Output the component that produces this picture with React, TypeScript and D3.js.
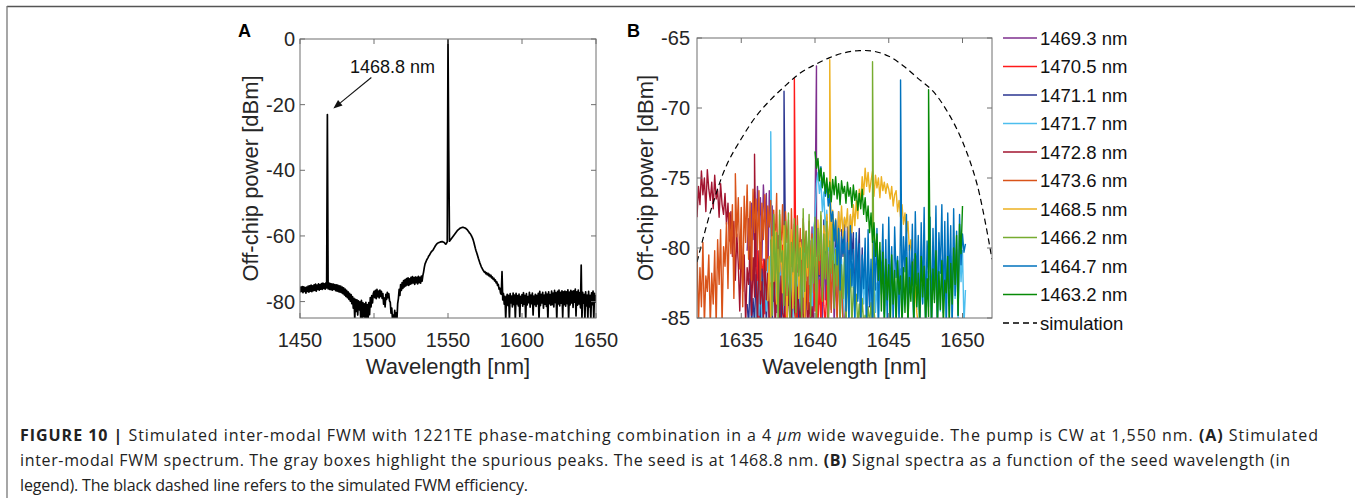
import React from 'react';
import * as d3 from 'd3';

const W = 1355;
const H = 498;

// ---------- Panel A: stimulated FWM spectrum (start 1450 nm, step 0.5 nm) ----------
const specAStart = 1450;
const specAStep = 0.5;
const specADbm = [
  -77.2,-75.6,-76.9,-75.4,-77.3,-75.5,-76.9,-75.7,-77.4,-75.6,
  -76.9,-75.3,-77.1,-75.2,-76.8,-75.0,-77.0,-75.2,-76.7,-74.9,
  -76.6,-74.7,-76.8,-75.0,-76.3,-74.6,-76.5,-74.8,-76.2,-74.5,
  -76.3,-74.4,-76.0,-74.6,-76.2,-74.3,-75.8,-23.0,-76.1,-74.3,
  -76.3,-74.5,-76.4,-74.6,-76.5,-74.7,-76.2,-74.8,-76.7,-74.9,
  -76.8,-75.0,-77.0,-75.2,-77.1,-75.3,-77.3,-75.6,-77.6,-75.8,
  -78.0,-76.2,-78.4,-76.6,-78.8,-77.0,-79.3,-77.5,-79.9,-77.9,
  -80.6,-78.5,-82.0,-79.0,-85.5,-79.3,-83.0,-79.5,-84.1,-79.8,
  -82.5,-80.1,-84.8,-79.6,-85.5,-80.3,-84.6,-80.7,-85.5,-80.2,
  -85.5,-80.9,-85.5,-80.3,-84.0,-78.8,-81.6,-78.2,-80.4,-77.6,
  -76.9,-78.8,-76.6,-79.1,-76.3,-78.5,-76.8,-78.9,-76.5,-78.4,
  -76.9,-79.0,-77.6,-80.8,-78.9,-81.6,-77.8,-79.3,-77.2,-78.8,
  -77.6,-79.8,-80.2,-83.5,-82.0,-85.5,-84.1,-85.5,-82.7,-85.5,
  -83.4,-85.5,-80.6,-79.0,-76.3,-78.1,-74.8,-76.6,-74.2,-76.0,
  -73.6,-75.5,-73.3,-75.2,-73.0,-74.9,-72.8,-75.1,-73.1,-74.7,
  -72.6,-74.5,-72.4,-74.3,-72.7,-74.8,-72.5,-74.2,-72.6,-74.6,
  -72.3,-74.2,-72.6,-74.4,-72.2,-73.8,-72.1,-71.0,-69.6,-68.5,
  -68.0,-67.4,-67.0,-66.6,-66.1,-65.8,-65.4,-65.0,-64.7,-64.5,
  -64.2,-63.8,-63.4,-63.0,-62.7,-62.4,-62.2,-62.1,-62.0,-61.9,
  -61.8,-61.8,-61.7,-61.8,-61.9,-62.0,-62.3,-62.5,-62.2,-61.8,
  0.0,-34.0,-61.6,-61.3,-61.0,-60.7,-60.4,-60.1,-59.8,-59.5,
  -59.2,-58.9,-58.6,-58.3,-58.1,-57.9,-57.7,-57.6,-57.5,-57.4,
  -57.4,-57.4,-57.5,-57.6,-57.7,-57.9,-58.1,-58.4,-58.7,-59.1,
  -59.3,-59.7,-60.1,-60.6,-61.2,-62.0,-62.9,-63.8,-64.6,-65.3,
  -66.0,-66.8,-67.5,-68.2,-68.8,-69.4,-69.8,-70.3,-70.6,-71.0,
  -70.9,-71.5,-71.2,-71.8,-71.4,-72.1,-71.7,-72.4,-72.0,-72.8,
  -72.5,-73.2,-72.9,-73.7,-73.4,-74.3,-74.0,-75.1,-74.8,-76.2,
  -75.9,-77.4,-77.8,-70.9,-79.5,-77.6,-80.8,-78.4,-85.5,-79.0,
  -77.8,-81.2,-78.1,-85.5,-77.6,-80.4,-78.3,-81.6,-77.4,-80.9,
  -78.0,-85.5,-77.5,-80.7,-78.2,-81.3,-77.7,-84.6,-78.4,-80.5,
  -77.9,-81.4,-77.3,-80.8,-78.1,-85.5,-77.6,-81.0,-78.5,-80.3,
  -77.2,-81.7,-78.0,-80.6,-77.4,-84.1,-78.3,-80.9,-77.8,-81.5,
  -78.1,-80.7,-77.5,-85.5,-76.9,-81.2,-77.8,-80.4,-77.2,-82.0,
  -78.0,-80.8,-77.1,-81.5,-77.7,-85.5,-77.0,-80.6,-77.9,-81.1,
  -76.8,-80.9,-77.4,-81.6,-76.6,-80.3,-77.3,-85.5,-76.9,-80.7,
  -76.5,-81.3,-77.2,-80.5,-76.7,-84.8,-77.0,-80.9,-76.8,-81.4,
  -77.0,-80.6,-76.4,-85.5,-77.1,-81.0,-76.6,-80.4,-76.9,-81.8,
  -76.7,-80.2,-76.2,-84.4,-77.0,-81.1,-76.5,-80.7,-77.3,-81.9,
  -68.9,-85.5,-77.2,-80.5,-77.8,-85.5,-77.0,-81.3,-78.0,-85.5,
  -76.9,-81.6,-78.1,-85.5,-77.3,-80.9,-76.8,-85.5,-77.5,-80.2,
  -78.0,
];
const aXTicks = [1450, 1500, 1550, 1600, 1650];
const aYTicks = [0, -20, -40, -60, -80];
const seedAnnot = '1468.8 nm';
const seedWl = 1468.8;
const seedDbm = -23;

// ---------- Panel B: signal spectra (step 0.1 nm) ----------
const bStep = 0.1;
const bXTicks = [1635, 1640, 1645, 1650];
const bYTicks = [-65, -70, -75, -80, -85];
const seedLabels = ['1469.3 nm','1470.5 nm','1471.1 nm','1471.7 nm','1472.8 nm','1473.6 nm','1468.5 nm','1466.2 nm','1464.7 nm','1463.2 nm'];
const seedColors = ['#7E2F8E','#FF1A1A','#2A3590','#4DBEEE','#A2142F','#D95319','#EDB120','#77AC30','#0072BD','#078A07'];
const seriesStart = [1635.4, 1636.0, 1635.4, 1636.0, 1632.0, 1632.0, 1636.8, 1637.0, 1640.2, 1640.0];
const peakWl = [1640.1, 1638.6, 1637.9, 1637.0, 1635.9, 1634.6, 1641.0, 1643.9, 1645.8, 1647.7];
const peakDbm = [-67.0, -67.9, -68.8, -71.7, -73.3, -74.7, -66.55, -66.7, -68.0, -68.7];

const s1469_3 = [
  -80.2,-77.9,-82.5,-76.8,-79.4,-76.0,-81.3,-75.6,-78.2,-76.4,
  -80.9,-75.5,-77.8,-76.1,-82.7,-75.9,-78.6,-77.0,-83.8,-78.3,
  -84.6,-79.1,-85.5,-80.4,-83.2,-79.6,-85.5,-81.0,-84.1,-80.2,
  -85.5,-79.8,-83.6,-81.5,-85.5,-80.1,-84.9,-79.4,-82.8,-85.5,
  -80.6,-84.3,-79.2,-83.0,-78.5,-85.5,-77.9,-80.6,-79.8,-84.0,
  -80.9,-85.5,-79.5,-83.7,-81.2,-85.5,-80.3,-84.4,-79.9,-85.5,
  -81.6,-84.8,-80.4,-85.5,-81.9,-83.5,-85.5,
];
const s1470_5 = [
  -83.5,-80.2,-85.5,-79.6,-82.1,-80.8,-84.7,-79.9,-81.4,-85.5,
  -80.5,-83.9,-79.7,-85.5,-81.3,-84.2,-80.6,-85.5,-79.8,-82.9,
  -85.5,-80.9,-83.6,-81.2,-85.5,-80.4,-84.0,-81.7,-85.5,-80.0,
  -82.6,-85.5,-81.4,-84.8,-80.7,-85.5,-81.9,-83.3,-85.5,-82.0,
  -84.5,-81.6,-85.5,-82.3,-85.5,-81.0,-84.1,-85.5,-82.7,-85.5,
  -85.5,
];
const s1471_1 = [
  -84.0,-85.5,-82.2,-85.5,-83.6,-85.5,-81.9,-84.7,-82.8,-85.5,
  -81.5,-84.2,-80.8,-85.5,-82.3,-83.9,-80.6,-85.5,-81.7,-84.4,
  -80.3,-83.1,-79.9,-85.5,-81.0,-84.6,-80.4,-82.7,-79.7,-85.5,
  -80.8,-84.0,-79.5,-82.9,-81.2,-85.5,-80.0,-83.4,-79.3,-84.8,
  -79.9,-82.5,-78.9,-85.5,-79.6,-83.1,-78.6,-84.2,-79.1,-82.0,
  -78.4,-83.6,-78.0,-81.7,-77.8,-84.9,-78.3,-80.9,-77.6,-83.2,
  -78.1,-81.5,-77.4,-84.0,-78.7,-80.6,-77.9,-85.5,-78.5,-82.3,
  -77.7,-80.8,-78.9,-84.1,-79.3,-82.0,-78.6,-85.5,-80.0,-83.3,
  -80.7,-85.5,-81.4,-84.2,-82.0,-85.5,-83.1,
];
const s1471_7 = [
  -85.5,-82.4,-84.8,-81.6,-85.5,-83.0,-81.9,-84.5,-80.8,-85.5,
  -81.2,-83.7,-80.5,-85.5,-82.1,-84.3,-80.9,-83.2,-81.5,-85.5,
  -82.3,-85.5,-80.7,-83.8,-81.4,-85.5,-80.2,-84.1,-81.8,-82.9,
  -85.5,-80.6,-83.5,-79.8,-84.4,-80.9,-82.6,-79.5,-85.5,-78.7,
  -77.9,-75.4,-74.6,-76.1,-75.2,-77.4,-76.0,-78.8,-77.3,-80.2,
  -78.6,-82.4,-79.5,-81.1,-80.0,-84.3,-79.2,-82.5,-80.8,-85.5,
  -81.0,-83.4,-79.7,-85.5,-80.5,-82.8,-81.6,-84.9,-80.3,-83.6,
  -82.2,-85.5,-80.9,-84.0,-81.7,-85.5,-80.4,-82.9,-83.8,-85.5,
  -81.3,-84.6,-82.5,-85.5,-80.8,-83.3,-81.9,-85.5,-82.7,-84.1,
  -80.6,-85.5,-81.8,-83.5,-82.4,-85.5,-80.9,-84.7,-81.5,-85.5,
  -82.8,-84.0,-80.3,-85.5,-81.6,-83.1,-82.9,-85.5,-80.7,-84.4,
  -81.2,-85.5,-82.6,-83.9,-80.5,-85.5,-81.7,-84.2,-82.0,-85.5,
  -80.4,-83.0,-81.9,-85.5,-79.6,-84.5,-80.8,-82.7,-81.3,-85.5,
  -79.9,-84.1,-80.6,-85.5,-79.2,-83.6,-80.1,-85.5,-79.5,-82.4,
  -80.2,-85.5,-83.0,
];
const s1472_8 = [
  -77.8,-75.6,-76.9,-74.5,-76.2,-75.0,-77.4,-74.4,-75.8,-76.6,
  -75.3,-77.2,-74.8,-76.5,-75.9,-77.8,-75.4,-76.9,-77.6,-76.1,
  -78.3,-76.8,-79.5,-77.4,-80.6,-78.1,-82.3,-79.0,-81.2,-84.5,
  -79.8,-83.1,-80.5,-85.5,-81.4,-82.6,-79.9,-84.8,-80.7,-83.5,
  -81.6,-85.5,-80.2,-84.0,-82.4,-85.5,-80.9,-83.7,-81.8,-85.5,
  -82.5,-84.2,-80.6,-85.5,-83.1,-81.4,-85.5,-82.0,-84.6,-85.5,
  -81.9,-85.5,-83.4,-82.2,-85.5,-81.5,-84.3,-85.5,-82.8,-84.0,
  -85.5,-83.0,-84.7,-85.5,-82.4,-85.5,-83.9,-85.5,-84.2,-85.5,
  -85.5,
];
const s1473_6 = [
  -80.1,-85.5,-81.4,-84.2,-79.6,-85.5,-82.0,-83.1,-80.5,-85.5,
  -81.8,-84.0,-80.2,-85.5,-79.4,-82.6,-78.7,-85.5,-79.9,-81.3,
  -78.2,-82.9,-77.5,-80.4,-76.9,-83.6,-77.8,-79.2,-76.4,-81.5,
  -77.1,-84.2,-76.3,-79.6,-75.5,-80.8,-76.7,-82.3,-75.8,-78.9,
  -76.5,-80.1,-75.9,-83.0,-76.8,-79.4,-76.2,-81.6,-77.0,-78.5,
  -76.6,-82.4,-77.3,-79.8,-76.1,-84.0,-77.6,-80.5,-76.9,-81.8,
  -77.4,-79.6,-78.0,-83.5,-77.2,-80.9,-78.3,-85.5,-77.7,-81.2,
  -78.6,-82.7,-77.9,-80.3,-78.8,-84.4,-78.1,-81.5,-79.0,-83.2,
  -78.4,-85.5,-79.3,-81.9,-78.7,-83.8,-79.6,-82.1,-80.4,-85.5,
  -79.8,-84.6,-80.9,-83.0,-81.5,-85.5,-80.6,-84.1,-82.2,-85.5,
  -85.5,
];
const s1468_5 = [
  -83.8,-80.6,-85.5,-79.2,-82.4,-78.8,-84.0,-80.1,-81.7,-79.5,
  -83.2,-78.4,-81.0,-85.5,-79.1,-82.6,-78.7,-84.3,-80.0,-81.9,
  -78.9,-83.6,-79.6,-80.8,-78.3,-85.5,-79.8,-82.0,-78.5,-83.1,
  -79.4,-81.3,-78.6,-84.7,-78.0,-80.5,-77.7,-82.8,-78.4,-80.2,
  -77.6,-79.9,-78.2,-81.4,-77.3,-79.0,-77.9,-80.7,-77.4,-78.8,
  -77.0,-79.3,-77.8,-78.5,-77.2,-80.1,-77.6,-78.9,-76.9,-78.4,
  -76.6,-77.9,-75.8,-76.7,-74.9,-76.2,-74.3,-75.6,-74.6,-76.0,
  -75.2,-74.5,-76.3,-74.8,-75.7,-75.0,-76.4,-74.9,-75.9,-75.3,
  -76.1,-75.4,-75.8,-76.5,-75.6,-77.0,-76.2,-75.9,-77.4,-76.6,
  -77.8,-76.9,-78.3,-77.5,-79.0,-78.1,-80.2,-79.4,-81.6,-80.8,
  -83.0,-84.6,-85.5,
];
const s1466_2 = [
  -79.4,-84.8,-77.6,-82.3,-78.9,-85.5,-77.3,-81.0,-80.2,-84.1,
  -78.1,-83.4,-77.5,-85.5,-79.6,-81.7,-77.9,-84.6,-78.4,-82.0,
  -80.0,-85.5,-77.2,-83.1,-78.8,-81.4,-77.6,-84.9,-79.3,-82.5,
  -77.8,-85.5,-78.6,-80.9,-77.4,-83.8,-79.0,-82.2,-78.1,-85.5,
  -79.5,-81.8,-78.3,-84.3,-80.1,-82.7,-78.7,-85.5,-81.2,-83.6,
  -80.4,-85.5,-82.0,-83.9,-81.5,-85.5,-82.8,-84.4,-83.3,-85.5,
  -84.0,-85.5,-83.6,-85.5,-84.8,-85.5,-84.2,-85.5,-83.9,-85.5,
  -84.5,-85.5,-85.5,-85.5,-85.5,
];
const s1464_7 = [
  -73.8,-74.9,-74.2,-75.6,-74.8,-76.3,-75.5,-77.0,-76.2,-78.1,
  -77.4,-79.5,-78.0,-81.2,-78.6,-83.0,-79.2,-80.4,-78.8,-84.5,
  -79.6,-85.5,-78.4,-82.7,-80.1,-85.5,-78.9,-83.8,-79.7,-85.5,
  -80.5,-82.9,-79.3,-85.5,-78.7,-84.1,-80.8,-85.5,-79.5,-83.0,
  -78.6,-85.5,-80.2,-82.4,-78.3,-84.7,-79.4,-85.5,-77.8,-83.6,
  -79.9,-85.5,-78.5,-82.1,-80.6,-85.5,-78.0,-84.3,-79.2,-81.7,
  -77.6,-85.5,-79.8,-83.2,-78.3,-85.5,-77.4,-82.6,-79.1,-85.5,
  -78.2,-84.0,-77.1,-85.5,-79.5,-82.3,-77.8,-85.5,-78.6,-83.7,
  -77.0,-85.5,-78.9,-81.8,-76.9,-84.6,-78.1,-85.5,-77.5,-82.9,
  -78.4,-85.5,-77.2,-83.4,-78.8,-84.8,-77.6,-81.2,-79.0,-80.3,
  -79.7,
];
const s1463_2 = [
  -73.1,-74.3,-73.6,-75.2,-74.3,-75.7,-74.6,-76.1,-75.0,-76.4,
  -75.3,-76.7,-75.1,-76.2,-74.9,-76.5,-75.4,-76.9,-75.2,-76.1,
  -75.6,-76.8,-75.3,-76.3,-75.7,-77.1,-75.5,-76.6,-75.9,-77.3,
  -76.1,-77.2,-75.8,-77.6,-76.4,-78.1,-77.0,-78.9,-77.5,-79.6,
  -78.2,-80.6,-79.0,-82.3,-79.6,-84.5,-80.3,-85.5,-80.8,-83.7,
  -81.2,-85.5,-80.5,-84.0,-81.6,-85.5,-80.9,-83.3,-82.0,-85.5,
  -81.4,-84.6,-80.7,-85.5,-82.1,-83.8,-81.0,-85.5,-80.4,-84.2,
  -81.8,-85.5,-80.6,-83.5,-81.3,-85.5,-82.2,-84.9,-80.8,-85.5,
  -81.5,-83.9,-80.2,-85.5,-81.7,-84.4,-80.9,-85.5,-82.3,-83.2,
  -80.6,-85.5,-81.1,-84.0,-80.0,-82.6,-79.1,-84.8,-78.3,-80.4,
  -77.0,
];
const seriesDbm = [s1469_3, s1470_5, s1471_1, s1471_7, s1472_8, s1473_6, s1468_5, s1466_2, s1464_7, s1463_2];

// simulated FWM efficiency
const simWl = [1632,1633,1634,1635,1636,1637,1638,1639,1640,1641,1642,1643,1644,1645,1646,1647,1648,1649,1650,1651,1652];
const simDbm = [-81.0,-77.1,-74.1,-72.2,-70.6,-69.4,-68.4,-67.5,-66.9,-66.4,-66.05,-65.9,-65.95,-66.3,-67.0,-67.9,-68.8,-70.3,-72.4,-75.5,-80.8];

// ---------- layout ----------
const A = { l: 300, r: 596, t: 39, b: 318 };
const B = { l: 697, r: 992, t: 38, b: 318 };
const FONT = '"Liberation Sans", Arial, Helvetica, sans-serif';
const CAPFONT = '"Open Sans", "Liberation Sans", Arial, sans-serif';
const AXC = '#262626';
const BOXC = '#6e6e6e';

const xA = d3.scaleLinear().domain([1450, 1650]).range([A.l, A.r]);
const yA = d3.scaleLinear().domain([-85, 0]).range([A.b, A.t]);
const xB = d3.scaleLinear().domain([1632, 1652]).range([B.l, B.r]);
const yB = d3.scaleLinear().domain([-85, -65]).range([B.b, B.t]);

function Axes({ box, xs, ys, xt, yt, yLabelRight, yLabelX }: any) {
  const tl = 5;
  return (
    <g fontFamily={FONT}>
      <rect x={box.l} y={box.t} width={box.r - box.l} height={box.b - box.t} fill="none" stroke={BOXC} strokeWidth={1} />
      {xt.map((v: number) => (
        <g key={'x' + v}>
          <line x1={xs(v)} x2={xs(v)} y1={box.b} y2={box.b - tl} stroke={BOXC} />
          <line x1={xs(v)} x2={xs(v)} y1={box.t} y2={box.t + tl} stroke={BOXC} />
          <text x={xs(v)} y={347} textAnchor="middle" fontSize={20} fill={AXC}>{v}</text>
        </g>
      ))}
      {yt.map((v: number) => (
        <g key={'y' + v}>
          <line x1={box.l} x2={box.l + tl} y1={ys(v)} y2={ys(v)} stroke={BOXC} />
          <line x1={box.r} x2={box.r - tl} y1={ys(v)} y2={ys(v)} stroke={BOXC} />
          <text x={yLabelRight} y={ys(v)} dy="0.36em" textAnchor="end" fontSize={20} fill={AXC}>{v}</text>
        </g>
      ))}
      <text x={(box.l + box.r) / 2} y={374} textAnchor="middle" fontSize={22} fill={AXC}>Wavelength [nm]</text>
      <text transform={`translate(${yLabelX},${(box.t + box.b) / 2}) rotate(-90)`} textAnchor="middle" dy="0.36em" fontSize={22} fill={AXC}>Off-chip power [dBm]</text>
    </g>
  );
}

export default function App() {
  const lineA = d3.line<number>().x((_, i) => xA(specAStart + i * specAStep)).y((d) => yA(d));
  const pathA = lineA(specADbm) || '';

  const lineB = d3.line<[number, number]>().x((d) => xB(d[0])).y((d) => yB(d[1]));
  const seriesPaths = seriesDbm.map((vals, k) => {
    const pts: [number, number][] = vals.map((v, i) => [seriesStart[k] + i * bStep, v]);
    pts.push([peakWl[k], peakDbm[k]]);
    pts.sort((a, b) => a[0] - b[0]);
    return lineB(pts) || '';
  });
  const simLine = d3.line<number>().x((_, i) => xB(simWl[i])).y((d) => yB(d)).curve(d3.curveCatmullRom);
  const simPath = simLine(simDbm) || '';

  const tipX = xA(seedWl) + 5.5;
  const tipY = yA(seedDbm) - 6;
  const tailX = tipX + 38;
  const tailY = tipY - 31;
  const ang = Math.atan2(tipY - tailY, tipX - tailX);
  const ah = 9, aw = 3.5;
  const bx = tipX - ah * Math.cos(ang), by = tipY - ah * Math.sin(ang);
  const arrowHead = `M${tipX},${tipY}L${bx + aw * Math.sin(ang)},${by - aw * Math.cos(ang)}L${bx - aw * Math.sin(ang)},${by + aw * Math.cos(ang)}Z`;

  const legX1 = 1003, legX2 = 1037, legY0 = 38, legDy = 28.5;

  return (
    <svg width={W} height={H} style={{ position: 'absolute', left: 0, top: 0, background: '#fff' }}>
      <defs>
        <clipPath id="clipA"><rect x={A.l} y={A.t} width={A.r - A.l} height={A.b - A.t} /></clipPath>
        <clipPath id="clipB"><rect x={B.l} y={B.t} width={B.r - B.l} height={B.b - B.t} /></clipPath>
      </defs>
      <rect x={0} y={0} width={W} height={H} fill="#fff" />
      {/* frame */}
      <line x1={7} x2={W} y1={6.5} y2={6.5} stroke="#555" strokeWidth={1.3} />
      <line x1={7} x2={7} y1={6} y2={H} stroke="#777" strokeWidth={1.3} />

      {/* panel A */}
      <g clipPath="url(#clipA)">
        <path d={pathA} fill="none" stroke="#000" strokeWidth={1.7} strokeLinejoin="round" />
      </g>
      <Axes box={A} xs={xA} ys={yA} xt={aXTicks} yt={aYTicks} yLabelRight={295} yLabelX={250} />
      <text x={238} y={37} fontFamily={FONT} fontWeight="bold" fontSize={18}>A</text>
      <text x={350} y={73} fontFamily={FONT} fontSize={18} fill="#111">{seedAnnot}</text>
      <line x1={tailX} y1={tailY} x2={bx} y2={by} stroke="#111" strokeWidth={1.1} />
      <path d={arrowHead} fill="#111" />

      {/* panel B */}
      <g clipPath="url(#clipB)">
        {seriesPaths.map((p, k) => (
          <path key={k} d={p} fill="none" stroke={seedColors[k]} strokeWidth={1.4} strokeLinejoin="round" />
        ))}
        <path d={simPath} fill="none" stroke="#000" strokeWidth={1.2} strokeDasharray="6,4" />
      </g>
      <Axes box={B} xs={xB} ys={yB} xt={bXTicks} yt={bYTicks} yLabelRight={690} yLabelX={645} />
      <text x={627} y={37} fontFamily={FONT} fontWeight="bold" fontSize={18}>B</text>

      {/* legend */}
      <g fontFamily={FONT} fontSize={18.5} fill="#111">
        {seedLabels.map((lab, k) => (
          <g key={lab}>
            <line x1={legX1} x2={legX2} y1={legY0 + k * legDy} y2={legY0 + k * legDy} stroke={seedColors[k]} strokeWidth={1.5} />
            <text x={1040} y={legY0 + k * legDy} dy="0.36em">{lab}</text>
          </g>
        ))}
        <line x1={legX1} x2={legX2} y1={legY0 + 10 * legDy} y2={legY0 + 10 * legDy} stroke="#000" strokeWidth={1.3} strokeDasharray="6,4" />
        <text x={1040} y={legY0 + 10 * legDy} dy="0.36em">simulation</text>
      </g>

      {/* caption */}
      <g fontFamily={CAPFONT} fontSize={16} fill="#222">
        <text x={20} y={441} textLength={1298} lengthAdjust="spacing">
          <tspan fontWeight="bold">FIGURE 10 | </tspan>
          <tspan>Stimulated inter-modal FWM with 1221TE phase-matching combination in a 4 </tspan>
          <tspan fontStyle="italic">μm</tspan>
          <tspan> wide waveguide. The pump is CW at 1,550 nm. </tspan>
          <tspan fontWeight="bold">(A)</tspan>
          <tspan> Stimulated</tspan>
        </text>
        <text x={20} y={466} textLength={1270} lengthAdjust="spacing">
          <tspan>inter-modal FWM spectrum. The gray boxes highlight the spurious peaks. The seed is at 1468.8 nm. </tspan>
          <tspan fontWeight="bold">(B)</tspan>
          <tspan> Signal spectra as a function of the seed wavelength (in</tspan>
        </text>
        <text x={20} y={491} textLength={508} lengthAdjust="spacing">legend). The black dashed line refers to the simulated FWM efficiency.</text>
      </g>
    </svg>
  );
}
